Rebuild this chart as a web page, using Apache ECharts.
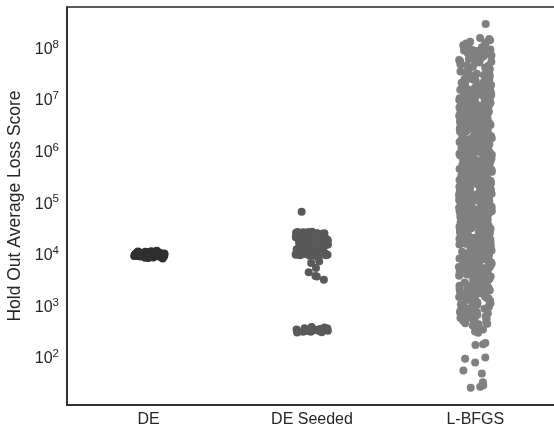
<!DOCTYPE html>
<html>
<head>
<meta charset="utf-8">
<script src="https://cdn.jsdelivr.net/npm/echarts@6/dist/echarts.min.js"></script>
<style>html,body{margin:0;padding:0;background:#fff}#c{width:554px;height:430px}</style>
</head>
<body>
<div id="c"></div>
<script>
const categories = ['DE', 'DE Seeded', 'L-BFGS'];
const yTickExponents = [2, 3, 4, 5, 6, 7, 8];
const yAxisName = 'Hold Out Average Loss Score';

const deValues = [
8.3e3,8.5e3,8.7e3,8.8e3,8.9e3,9.0e3,9.1e3,9.15e3,9.2e3,9.25e3,9.3e3,9.35e3,9.4e3,9.45e3,9.5e3,9.55e3,9.6e3,9.62e3,9.65e3,9.7e3,
9.72e3,9.75e3,9.8e3,9.82e3,9.85e3,9.88e3,9.9e3,9.92e3,9.95e3,9.97e3,1.0e4,1.0e4,1.002e4,1.005e4,1.008e4,1.01e4,1.012e4,1.015e4,1.018e4,1.02e4,
1.025e4,1.03e4,1.035e4,1.04e4,1.045e4,1.05e4,1.055e4,1.06e4,1.07e4,1.08e4,1.09e4,1.1e4,1.11e4,1.13e4,1.15e4,9.58e3,9.78e3,1.022e4,1.038e4,9.68e3,
1.065e4,9.05e3,8.6e3,1.12e4,1.17e4,9.86e3,1.0e4,1.03e4,9.44e3,1.075e4,
9.08e3,9.33e3,9.52e3,9.74e3,9.93e3,1.006e4,1.028e4,1.048e4,1.085e4,1.14e4
];

const deSeededValues = [
9.3e3,9.5e3,9.6e3,9.8e3,9.9e3,1.0e4,1.0e4,1.01e4,1.02e4,1.03e4,1.04e4,1.05e4,1.06e4,1.08e4,1.09e4,1.1e4,1.12e4,1.13e4,1.15e4,1.16e4,
1.18e4,1.2e4,1.21e4,1.23e4,1.25e4,1.27e4,1.29e4,1.3e4,1.32e4,1.34e4,1.36e4,1.38e4,1.4e4,1.42e4,1.44e4,1.46e4,1.48e4,1.5e4,1.52e4,1.55e4,
1.57e4,1.6e4,1.62e4,1.64e4,1.67e4,1.7e4,1.72e4,1.75e4,1.78e4,1.8e4,1.83e4,1.86e4,1.89e4,1.92e4,1.95e4,1.98e4,2.01e4,2.05e4,2.08e4,2.12e4,
2.15e4,2.19e4,2.22e4,2.26e4,2.3e4,2.34e4,2.38e4,2.42e4,2.46e4,2.5e4,2.55e4,2.6e4,2.65e4,2.7e4,
9.4e3,9.7e3,1.0e4,1.02e4,1.07e4,1.11e4,1.14e4,1.19e4,1.24e4,1.28e4,1.33e4,1.37e4,1.43e4,1.49e4,1.54e4,1.59e4,1.66e4,1.73e4,1.81e4,1.88e4,
1.96e4,2.04e4,2.13e4,2.24e4,2.36e4,2.48e4,2.58e4,2.68e4,1.0e4,1.01e4,9.9e3,1.05e4,2.5e4,2.6e4,2.55e4,
9.35e3,9.55e3,9.75e3,9.95e3,1.035e4,1.065e4,1.095e4,1.175e4,1.225e4,1.31e4,1.39e4,1.45e4,1.53e4,1.61e4,1.69e4,1.77e4,1.85e4,1.93e4,2.02e4,2.1e4,
2.2e4,2.32e4,2.44e4,2.52e4,2.62e4,2.66e4,2.72e4,1.0e4,9.6e3,2.57e4,
6.7e4,7.3e3,6.8e3,5.4e3,4.5e3,3.8e3,3.7e3,3.2e3,
3.05e2,3.1e2,3.15e2,3.2e2,3.2e2,3.25e2,3.3e2,3.3e2,3.35e2,3.4e2,3.4e2,3.45e2,3.5e2,3.5e2,3.55e2,3.6e2,3.65e2,3.7e2,3.8e2,3.9e2,3.3e2,3.4e2
];

const lbfgsValues = [
2.9e8,1.55e8,1.48e8,1.4e8,1.32e8,1.22e8,1.12e8,1.03e8,
9.6e7,9.1e7,8.7e7,8.2e7,7.9e7,7.3e7,6.9e7,6.6e7,6.1e7,5.8e7,5.4e7,5.1e7,4.8e7,4.5e7,4.3e7,4.0e7,3.9e7,3.7e7,3.5e7,3.3e7,8.9e7,6.3e7,
1.08e8,1.18e8,1.27e8,9.9e7,9.3e7,8.4e7,7.6e7,7.1e7,6.7e7,5.6e7,5.2e7,4.6e7,4.1e7,3.6e7,3.4e7,
1.01e7,1.03e7,1.06e7,1.09e7,1.1e7,1.14e7,1.17e7,1.19e7,1.24e7,1.26e7,1.31e7,1.33e7,1.39e7,1.41e7,1.47e7,1.52e7,1.54e7,1.61e7,1.64e7,1.71e7,
1.76e7,1.79e7,1.87e7,1.91e7,1.99e7,2.04e7,2.11e7,2.16e7,2.25e7,2.31e7,2.37e7,2.46e7,2.53e7,2.59e7,2.69e7,2.75e7,2.86e7,2.93e7,3.04e7,3.16e7,
1.04e7,1.12e7,1.21e7,1.29e7,1.36e7,1.44e7,1.56e7,1.67e7,1.83e7,1.95e7,2.07e7,2.2e7,2.41e7,2.63e7,2.8e7,3.1e7,1.15e7,1.5e7,1.73e7,2.28e7,2.5e7,2.98e7,
1.0e6,1.03e6,1.04e6,1.08e6,1.11e6,1.12e6,1.16e6,1.19e6,1.2e6,1.24e6,1.27e6,1.28e6,1.33e6,1.36e6,1.37e6,1.42e6,1.45e6,1.48e6,1.51e6,1.52e6,
1.57e6,1.61e6,1.62e6,1.67e6,1.69e6,1.74e6,1.76e6,1.81e6,1.83e6,1.88e6,1.9e6,1.94e6,1.99e6,
2.01e6,2.08e6,2.11e6,2.18e6,2.21e6,2.28e6,2.31e6,2.36e6,2.43e6,2.46e6,2.53e6,2.56e6,2.63e6,2.66e6,2.73e6,2.77e6,2.85e6,2.89e6,2.97e6,
3.02e6,3.11e6,3.16e6,3.25e6,3.3e6,3.39e6,3.44e6,3.53e6,3.59e6,3.68e6,3.73e6,3.82e6,3.87e6,3.96e6,
4.04e6,4.15e6,4.22e6,4.33e6,4.4e6,4.51e6,4.58e6,4.69e6,4.76e6,4.87e6,4.94e6,
5.04e6,5.17e6,5.26e6,5.39e6,5.48e6,5.61e6,5.7e6,5.83e6,5.92e6,
6.06e6,6.22e6,6.34e6,6.51e6,6.63e6,6.79e6,6.91e6,
7.07e6,7.26e6,7.41e6,7.59e6,7.74e6,7.93e6,
8.07e6,8.26e6,8.41e6,8.59e6,8.74e6,8.93e6,
9.08e6,9.31e6,9.49e6,9.71e6,9.89e6,
1.02e6,1.06e6,1.1e6,1.14e6,1.18e6,1.22e6,1.26e6,1.31e6,1.35e6,1.4e6,1.44e6,1.5e6,1.55e6,1.59e6,1.65e6,1.71e6,1.78e6,1.86e6,1.92e6,1.97e6,
2.05e6,2.15e6,2.25e6,2.34e6,2.4e6,2.5e6,2.6e6,2.7e6,2.81e6,2.93e6,3.07e6,3.2e6,3.35e6,3.49e6,3.63e6,3.78e6,3.92e6,4.1e6,4.28e6,4.46e6,
4.63e6,4.82e6,5.1e6,5.33e6,5.55e6,5.77e6,6.14e6,6.43e6,6.71e6,7.0e6,7.33e6,7.67e6,8.0e6,8.33e6,8.67e6,9.0e6,9.4e6,9.8e6,3.0e6,1.3e6,
1.01e5,1.02e5,1.06e5,1.07e5,1.09e5,1.13e5,1.14e5,1.17e5,1.21e5,1.22e5,1.25e5,1.28e5,1.31e5,1.34e5,1.36e5,1.4e5,1.43e5,1.46e5,1.49e5,1.54e5,
1.55e5,1.59e5,1.64e5,1.65e5,1.71e5,1.72e5,1.78e5,1.79e5,1.82e5,1.86e5,1.89e5,1.93e5,1.97e5,
2.03e5,2.06e5,2.13e5,2.16e5,2.23e5,2.26e5,2.33e5,2.38e5,2.41e5,2.48e5,2.51e5,2.58e5,2.61e5,2.68e5,2.71e5,2.79e5,2.83e5,2.91e5,2.95e5,
3.04e5,3.09e5,3.18e5,3.23e5,3.32e5,3.37e5,3.46e5,3.51e5,3.61e5,3.66e5,3.75e5,3.8e5,3.89e5,3.94e5,
4.06e5,4.13e5,4.24e5,4.31e5,4.42e5,4.49e5,4.6e5,4.67e5,4.78e5,4.85e5,4.96e5,
5.06e5,5.15e5,5.28e5,5.37e5,5.5e5,5.59e5,5.72e5,5.81e5,5.94e5,
6.08e5,6.2e5,6.36e5,6.49e5,6.65e5,6.77e5,6.93e5,
7.09e5,7.24e5,7.43e5,7.57e5,7.76e5,7.91e5,
8.09e5,8.24e5,8.43e5,8.57e5,8.76e5,8.91e5,
9.12e5,9.28e5,9.52e5,9.69e5,9.91e5,
1.03e5,1.08e5,1.11e5,1.16e5,1.19e5,1.24e5,1.27e5,1.32e5,1.38e5,1.42e5,1.47e5,1.52e5,1.57e5,1.62e5,1.68e5,1.74e5,1.81e5,1.88e5,1.95e5,1.99e5,
2.09e5,2.19e5,2.29e5,2.36e5,2.45e5,2.55e5,2.65e5,2.75e5,2.87e5,2.99e5,3.13e5,3.28e5,3.42e5,3.56e5,3.71e5,3.85e5,3.98e5,4.19e5,4.37e5,4.55e5,
4.73e5,4.91e5,5.21e5,5.44e5,5.66e5,5.88e5,6.28e5,6.57e5,6.85e5,7.17e5,7.5e5,7.84e5,8.17e5,8.5e5,8.84e5,9.2e5,9.6e5,9.95e5,1.5e5,2.4e5,
1.02e4,1.05e4,1.08e4,1.12e4,1.15e4,1.18e4,1.22e4,1.25e4,1.29e4,1.32e4,1.36e4,1.39e4,1.43e4,1.46e4,1.5e4,1.53e4,1.57e4,1.6e4,1.64e4,1.67e4,
1.71e4,1.74e4,1.78e4,1.81e4,1.84e4,1.87e4,1.9e4,1.93e4,1.96e4,1.99e4,
2.04e4,2.09e4,2.15e4,2.2e4,2.26e4,2.31e4,2.37e4,2.42e4,2.48e4,2.53e4,2.59e4,2.64e4,2.7e4,2.75e4,2.81e4,2.86e4,2.92e4,2.98e4,
3.05e4,3.14e4,3.22e4,3.31e4,3.4e4,3.48e4,3.57e4,3.65e4,3.74e4,3.82e4,3.9e4,3.98e4,
4.07e4,4.18e4,4.28e4,4.39e4,4.5e4,4.6e4,4.71e4,4.81e4,4.9e4,4.98e4,
5.08e4,5.21e4,5.35e4,5.48e4,5.62e4,5.74e4,5.86e4,5.97e4,
6.1e4,6.26e4,6.41e4,6.57e4,6.72e4,6.86e4,6.98e4,
7.12e4,7.3e4,7.48e4,7.66e4,7.83e4,7.97e4,
8.14e4,8.36e4,8.58e4,8.79e4,8.96e4,
9.18e4,9.44e4,9.68e4,9.9e4,
3.2e4,3.36e4,3.53e4,3.7e4,3.86e4,4.03e4,4.23e4,4.44e4,4.65e4,4.86e4,5.14e4,5.41e4,5.68e4,5.92e4,6.18e4,6.49e4,6.8e4,7.21e4,7.57e4,7.9e4,
8.25e4,8.68e4,9.05e4,9.56e4,9.8e4,
1.04e4,1.1e4,1.2e4,1.34e4,1.41e4,1.55e4,1.62e4,1.76e4,1.92e4,2.12e4,2.34e4,2.5e4,2.67e4,2.89e4,3.02e4,
3.2e3,3.3e3,3.4e3,3.5e3,3.55e3,3.65e3,3.75e3,3.85e3,3.95e3,4.05e3,4.15e3,4.3e3,4.4e3,4.5e3,4.65e3,4.8e3,4.9e3,5.05e3,5.2e3,5.35e3,
5.5e3,5.65e3,5.8e3,5.95e3,6.1e3,6.3e3,6.45e3,6.65e3,6.85e3,7.05e3,7.25e3,7.45e3,7.65e3,7.85e3,8.05e3,8.3e3,8.5e3,8.75e3,8.95e3,9.2e3,
9.45e3,9.7e3,9.9e3,4.6e3,6.0e3,
1.05e3,1.15e3,1.25e3,1.36e3,1.48e3,1.62e3,1.76e3,1.92e3,2.08e3,2.26e3,2.55e3,2.78e3,3.02e3,3.26e3,3.45e3,3.7e3,3.9e3,4.1e3,4.35e3,4.55e3,
4.85e3,5.1e3,5.45e3,5.75e3,6.2e3,6.6e3,7.0e3,7.5e3,8.0e3,8.6e3,9.1e3,9.6e3,3.6e3,4.2e3,5.3e3,6.9e3,2.15e3,2.9e3,1.42e3,8.2e3,
1.02e3,1.07e3,1.12e3,1.17e3,1.22e3,1.27e3,1.33e3,1.39e3,1.45e3,1.51e3,1.58e3,1.65e3,1.72e3,1.79e3,1.87e3,1.95e3,2.03e3,2.12e3,2.21e3,2.3e3,
2.4e3,2.5e3,2.61e3,2.72e3,2.84e3,2.96e3,3.08e3,1.3e3,1.6e3,2.0e3,2.45e3,1.85e3,
5.1e2,5.5e2,5.8e2,6.1e2,6.5e2,6.9e2,7.2e2,7.6e2,8.0e2,8.4e2,8.8e2,9.3e2,9.7e2,6.7e2,
4.5e2,5.3e2,5.7e2,6.3e2,7.0e2,7.4e2,7.9e2,8.6e2,9.0e2,9.5e2,9.9e2,6.0e2,
4.8e2,4.4e2,4.1e2,3.8e2,3.5e2,3.2e2,3.0e2,4.6e2,
1.9e2,1.8e2,1.75e2,1.0e2,9.5e1,8.0e1,5.6e1,4.9e1,3.3e1,2.9e1,2.7e1,2.6e1
];

const seriesValues = [deValues, deSeededValues, lbfgsValues];
const seriesColors = ['#2f2f2f', '#595959', '#808080'];
const FONT = 'Liberation Sans, Arial, sans-serif';

const chart = echarts.init(document.getElementById('c'), null, {renderer: 'canvas'});
chart.setOption({
  animation: false,
  backgroundColor: '#ffffff',
  grid: {
    left: 67, top: 7, bottom: 25, right: -3,
    show: true, borderColor: '#262626', borderWidth: 1.5,
    outerBoundsMode: 'none', containLabel: false
  },
  xAxis: {
    type: 'category',
    data: categories,
    jitter: 33,
    jitterOverlap: true,
    axisLine: {show: true, lineStyle: {color: '#262626', width: 1.5}},
    axisTick: {show: false},
    splitLine: {show: false},
    axisLabel: {fontSize: 16, color: '#262626', fontFamily: FONT, margin: 7}
  },
  yAxis: {
    type: 'log',
    logBase: 10,
    min: 12,
    max: 6.2e8,
    splitNumber: 8,
    name: yAxisName,
    nameLocation: 'middle',
    nameGap: 42,
    nameTextStyle: {fontSize: 17.5, color: '#262626', fontFamily: FONT},
    axisLine: {show: true, lineStyle: {color: '#262626', width: 1.5}},
    axisTick: {show: false},
    splitLine: {show: false},
    axisLabel: {
      margin: 8,
      fontFamily: FONT,
      color: '#262626',
      formatter: function (v) {
        const e = Math.log10(v);
        const r = Math.round(e);
        if (Math.abs(e - r) > 1e-6 || yTickExponents.indexOf(r) < 0) return '';
        return '{b|10}{s|' + r + '}';
      },
      rich: {
        b: {fontSize: 16, color: '#262626', fontFamily: FONT, lineHeight: 19, verticalAlign: 'bottom'},
        s: {fontSize: 11.5, color: '#262626', fontFamily: FONT, lineHeight: 19, verticalAlign: 'top', padding: [0, 0, 6, 0]}
      }
    }
  },
  series: seriesValues.map(function (vals, i) {
    return {
      type: 'scatter',
      name: categories[i],
      symbol: 'circle',
      symbolSize: 8,
      itemStyle: {color: seriesColors[i], opacity: 1},
      data: vals.map(function (v) { return [categories[i], v]; })
    };
  })
});
</script>
</body>
</html>
